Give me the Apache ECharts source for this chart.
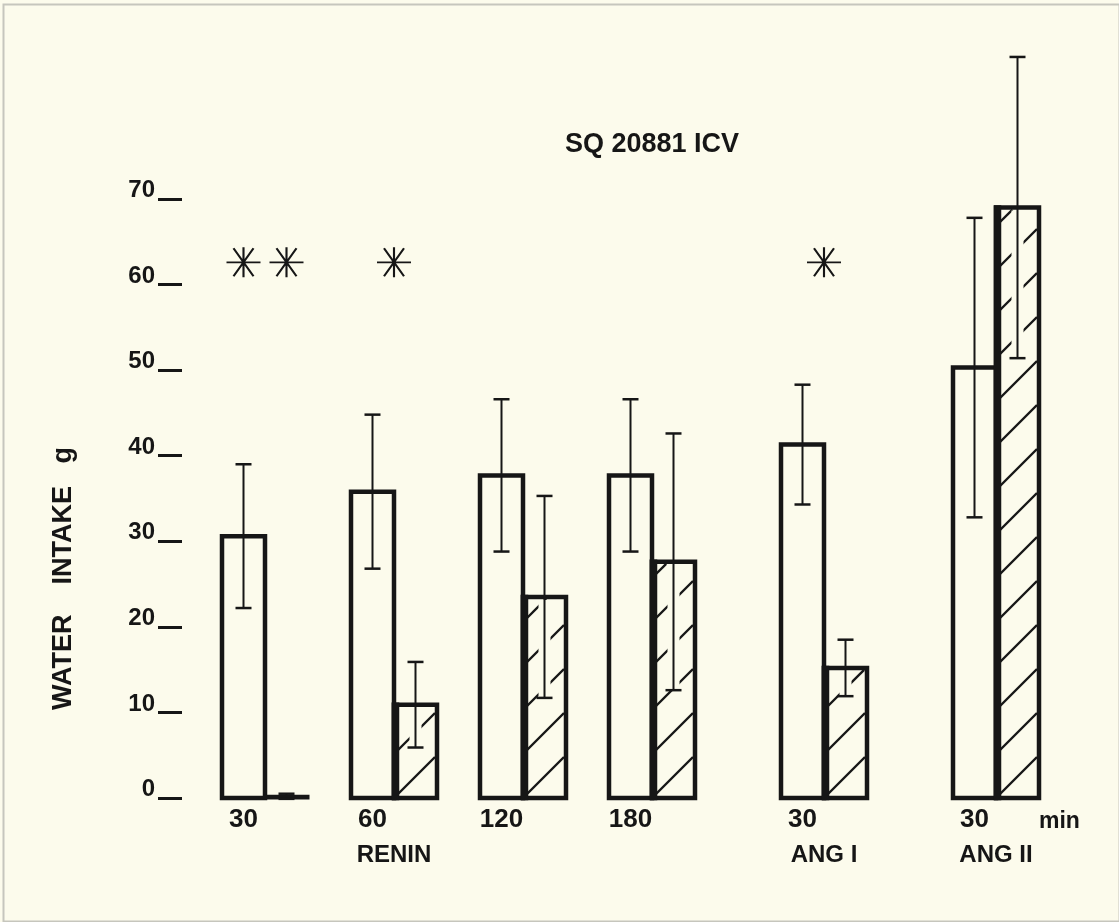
<!DOCTYPE html>
<html>
<head>
<meta charset="utf-8">
<script src="https://cdn.jsdelivr.net/npm/echarts@6/dist/echarts.min.js"></script>
<style>
  html, body { margin: 0; padding: 0; background: #fcfbec; }
  #chart { width: 1119px; height: 922px; }
</style>
</head>
<body>
<div id="chart"></div>
<script>
// ---- data ----
const timeLabels   = ['30', '60', '120', '180', '30', '30'];        // first row under the bars
const groupNames   = ['', 'RENIN', '', '', 'ANG I', 'ANG II'];      // second row
const controlMean  = [30.6, 35.8, 37.7, 37.7, 41.3, 50.3];          // open bars
const controlErr   = [8.4, 9.0, 8.9, 8.9, 7.0, 17.5];
const sqMean       = [0.2, 10.9, 23.5, 27.6, 15.2, 69.0];           // hatched bars (SQ 20881 ICV)
const sqErr        = [0.3, 5.0, 11.8, 15.0, 3.3, 17.6];
const sigStars     = [2, 1, 0, 0, 1, 0];                            // asterisks per group
const yTickValues  = [0, 10, 20, 30, 40, 50, 60, 70];

// ---- layout (slot units on the x scale, one slot = one bar width) ----
const groupSlots = [1, 4, 7, 10, 14, 18];
const starLevel = 62.6;

const BG = '#fcfbec';
const INK = '#161616';
const FONT = '"Liberation Sans", Arial, Helvetica, sans-serif';
const HATCH_SP = 44;

function barRenderer(hatched) {
  return function (params, api) {
    const slot = api.value(0), v = api.value(1), e = api.value(2);
    const xl = hatched ? slot : slot - 1;
    const tl = api.coord([xl, v]);
    const br = api.coord([xl + 1, 0]);
    const x0 = tl[0], x1 = br[0], yT = tl[1], yB = br[1];
    const cx = (x0 + x1) / 2;
    const eT = api.coord([xl + 0.5, v + e])[1];
    const eB = api.coord([xl + 0.5, v - e])[1];
    const children = [];
    children.push({ type: 'rect', shape: { x: x0, y: yT, width: x1 - x0, height: yB - yT },
      style: { fill: BG } });
    if (hatched) {
      const ix0 = x0 + 2, ix1 = x1 - 2, iyT = yT + 2, iyB = yB - 2;
      for (let k = x0 + yB; k > ix0 + iyT; k -= HATCH_SP) {
        const xa = Math.max(ix0, k - iyB);
        const xb = Math.min(ix1, k - iyT);
        if (xb > xa + 1) {
          children.push({ type: 'line', shape: { x1: xa, y1: k - xa, x2: xb, y2: k - xb },
            style: { stroke: INK, lineWidth: 2.4 } });
        }
      }
      if (e > 0) {
        const ha = Math.max(eT, yT + 3), hb = Math.min(eB, yB - 3);
        if (hb > ha) {
          children.push({ type: 'rect', shape: { x: cx - 6, y: ha, width: 12, height: hb - ha },
            style: { fill: BG } });
        }
      }
    }
    const tall = (yB - yT) > 6;
    children.push({ type: 'rect', shape: { x: x0, y: yT, width: x1 - x0, height: yB - yT },
      style: { fill: null, stroke: INK, lineWidth: tall ? 4.5 : 3 } });
    if (hatched && tall) {
      children.push({ type: 'rect', shape: { x: x0 - 2.25, y: yT - 2.25, width: 7.5, height: yB - yT + 4.5 },
        style: { fill: INK } });
    }
    if (e > 0) {
      children.push({ type: 'line', shape: { x1: cx, y1: eT, x2: cx, y2: eB }, style: { stroke: INK, lineWidth: 2 } });
      children.push({ type: 'line', shape: { x1: cx - 8, y1: eT, x2: cx + 8, y2: eT }, style: { stroke: INK, lineWidth: 2.5 } });
      children.push({ type: 'line', shape: { x1: cx - 8, y1: eB, x2: cx + 8, y2: eB }, style: { stroke: INK, lineWidth: 2.5 } });
    }
    return { type: 'group', children: children };
  };
}

const controlData = groupSlots.map((s, i) => [s, controlMean[i], controlErr[i]]);
const sqData = groupSlots.map((s, i) => [s, sqMean[i], sqErr[i]]);
const starData = [];
sigStars.forEach((n, i) => {
  if (n === 2) { starData.push([groupSlots[i] - 0.5, starLevel]); starData.push([groupSlots[i] + 0.5, starLevel]); }
  else if (n === 1) { starData.push([groupSlots[i], starLevel]); }
});

function slotLabel(v, offset, labels) {
  for (let i = 0; i < groupSlots.length; i++) {
    if (Math.abs(groupSlots[i] + offset - v) < 1e-6) return labels[i];
  }
  return '';
}

const yMin = yTickValues[0], yMax = yTickValues[yTickValues.length - 1];

const chart = echarts.init(document.getElementById('chart'), null, { renderer: 'canvas' });
chart.setOption({
  backgroundColor: BG,
  animation: false,
  title: {
    text: 'SQ 20881 ICV', left: 565, top: 131, padding: 0,
    textStyle: { fontFamily: FONT, fontSize: 27, fontWeight: 'bold', color: INK }
  },
  grid: [
    { left: 222, right: 80, top: 199, bottom: 124, containLabel: false },
    { left: 182, width: 10, top: 199, bottom: 124, containLabel: false }
  ],
  xAxis: [
    {
      type: 'value', gridIndex: 0, min: 0, max: 19, interval: 0.5, position: 'bottom',
      axisLine: { show: false }, axisTick: { show: false }, splitLine: { show: false },
      axisLabel: {
        margin: 9, fontFamily: FONT, fontSize: 26, fontWeight: 'bold', color: INK,
        formatter: v => slotLabel(v, -0.5, timeLabels)
      },
      name: 'min', nameLocation: 'end', nameGap: 0,
      nameTextStyle: { fontFamily: FONT, fontSize: 23, fontWeight: 'bold', color: INK,
        verticalAlign: 'top', align: 'left', padding: [12, 0, 0, 0] }
    },
    {
      type: 'value', gridIndex: 0, min: 0, max: 19, interval: 0.5, position: 'bottom', offset: 40,
      axisLine: { show: false }, axisTick: { show: false }, splitLine: { show: false },
      axisLabel: {
        margin: 5, fontFamily: FONT, fontSize: 24, fontWeight: 'bold', color: INK,
        formatter: v => slotLabel(v, 0, groupNames)
      }
    },
    { type: 'value', gridIndex: 1, min: 0, max: 1, show: false }
  ],
  yAxis: [
    { type: 'value', gridIndex: 0, min: yMin, max: yMax, interval: 10, show: false },
    {
      type: 'value', gridIndex: 1, min: yMin, max: yMax, interval: 10, position: 'left',
      axisLine: { show: false },
      axisTick: { show: true, length: 24, lineStyle: { width: 3, color: INK } },
      splitLine: { show: false },
      axisLabel: {
        margin: 27, fontFamily: FONT, fontSize: 24, fontWeight: 'bold', color: INK,
        verticalAlign: 'bottom', lineHeight: 17
      },
      name: 'WATER    INTAKE   g', nameLocation: 'middle', nameGap: 105, nameRotate: 90,
      nameTextStyle: { fontFamily: FONT, fontSize: 27, fontWeight: 'bold', color: INK,
        padding: [0, 160, 0, 0] }
    }
  ],
  graphic: [{
    type: 'rect', left: 1, top: 2, shape: { width: 1116, height: 917 },
    style: { fill: null, stroke: '#c6c6bd', lineWidth: 2 }, silent: true, z: -1
  }],
  series: [
    { type: 'custom', name: 'Control', xAxisIndex: 0, yAxisIndex: 0, clip: false,
      encode: { x: 0, y: 1 }, renderItem: barRenderer(false), data: controlData },
    { type: 'custom', name: 'SQ 20881 ICV', xAxisIndex: 0, yAxisIndex: 0, clip: false,
      encode: { x: 0, y: 1 }, renderItem: barRenderer(true), data: sqData },
    { type: 'scatter', xAxisIndex: 0, yAxisIndex: 0,
      symbol: 'path://M0,15L34,15M17,0L17,30M7,1L27,29M27,1L7,29',
      symbolSize: [34, 30],
      itemStyle: { color: 'transparent', borderColor: INK, borderWidth: 2, opacity: 1 },
      data: starData }
  ]
});
</script>
</body>
</html>
